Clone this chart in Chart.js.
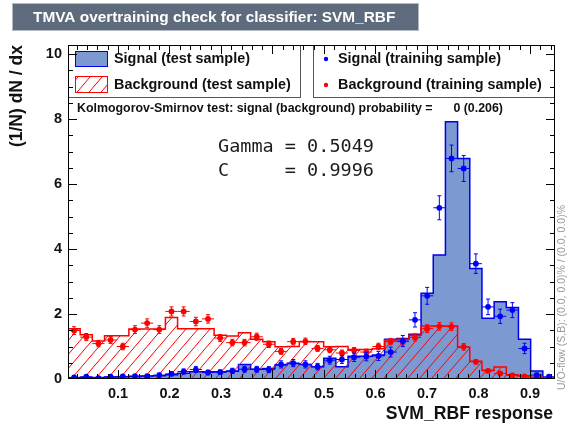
<!DOCTYPE html>
<html>
<head>
<meta charset="utf-8">
<script src="https://cdn.jsdelivr.net/npm/chart.js@4.4.1/dist/chart.umd.min.js"></script>
<style>
  html, body { margin: 0; background: #fff; }
  canvas { display: block; }
</style>
</head>
<body>
<canvas id="overtrain" width="568" height="427"></canvas>
<script>
// SVM_RBF response histograms, 40 bins
const nBins = 40;
const xLo = 0.003, xHi = 0.9485;
const xTicks = [0.1, 0.2, 0.3, 0.4, 0.5, 0.6, 0.7, 0.8, 0.9];
const yTicks = [0, 2, 4, 6, 8, 10];
const yMax = 10.28;

const sigTest = [0.04, 0.05, 0.05, 0.06, 0.07, 0.08, 0.09, 0.10, 0.13, 0.18,
                 0.22, 0.22, 0.22, 0.24, 0.45, 0.30, 0.32, 0.43, 0.48, 0.45,
                 0.38, 0.64, 0.38, 0.70, 0.70, 0.74, 1.22, 1.25, 1.38, 2.64,
                 3.82, 7.92, 6.79, 3.40, 1.87, 2.38, 2.20, 1.22, 0.25, 0.02];
const bkgTest = [1.55, 1.36, 1.17, 1.33, 1.33, 1.54, 1.54, 1.54, 1.89, 1.55,
                 1.55, 1.55, 1.35, 1.32, 1.42, 1.22, 1.15, 0.99, 1.00, 1.15,
                 1.15, 0.99, 1.00, 0.91, 0.91, 0.93, 1.20, 1.22, 1.35, 1.63,
                 1.63, 1.63, 0.98, 0.55, 0.27, 0.37, 0.13, 0.10, 0.05, 0.03];
const sigTrain = [0.05, 0.07, 0.03, 0.07, 0.08, 0.09, 0.09, 0.12, 0.16, 0.23,
                  0.29, 0.20, 0.21, 0.25, 0.30, 0.30, 0.29, 0.45, 0.49, 0.45,
                  0.38, 0.58, 0.60, 0.67, 0.69, 0.71, 0.83, 1.17, 1.82, 2.56,
                  5.27, 6.79, 6.48, 3.55, 2.22, 1.93, 2.12, 0.94, 0.12, 0.07];
const sigTrainErr = [0.04, 0.04, 0.03, 0.04, 0.05, 0.05, 0.05, 0.06, 0.06, 0.08,
                     0.09, 0.07, 0.07, 0.08, 0.09, 0.09, 0.09, 0.11, 0.11, 0.11,
                     0.10, 0.12, 0.12, 0.13, 0.13, 0.14, 0.15, 0.17, 0.22, 0.26,
                     0.37, 0.41, 0.40, 0.30, 0.24, 0.22, 0.23, 0.16, 0.06, 0.04];
const bkgTrain = [1.49, 1.29, 1.09, 1.20, 1.00, 1.52, 1.72, 1.52, 2.08, 2.08,
                  1.77, 1.85, 1.26, 1.12, 1.12, 1.30, 1.07, 0.85, 1.15, 1.16,
                  0.94, 0.90, 0.80, 0.88, 0.83, 1.00, 1.15, 1.15, 1.28, 1.55,
                  1.62, 1.61, 0.99, 0.53, 0.25, 0.17, 0.11, 0.08, 0.06, 0.02];
const bkgTrainErr = [0.12, 0.11, 0.10, 0.11, 0.10, 0.12, 0.13, 0.12, 0.14, 0.14,
                     0.13, 0.13, 0.11, 0.10, 0.10, 0.11, 0.10, 0.09, 0.10, 0.10,
                     0.09, 0.09, 0.09, 0.09, 0.09, 0.10, 0.10, 0.10, 0.11, 0.12,
                     0.12, 0.12, 0.10, 0.07, 0.05, 0.04, 0.03, 0.03, 0.02, 0.01];

const sans = '"Liberation Sans", Arial, Helvetica, sans-serif';
const sigFill = '#7d99d1', sigLine = '#0000ee', bkgLine = '#ff0000';

const binW = (xHi - xLo) / nBins;
const edge = i => xLo + i * binW;

// outline of a histogram: stepped line starting and ending on the baseline
function histPoints(vals) {
  const pts = [{x: edge(0), y: 0}];
  vals.forEach((v, i) => pts.push({x: edge(i), y: v}));
  pts.push({x: edge(nBins), y: 0});
  return pts;
}
const binPoints = vals => vals.map((v, i) => ({x: edge(i) + binW / 2, y: v}));

// diagonal red hatching
function hatch() {
  const s = 12, h = 14;
  const c = document.createElement('canvas');
  c.width = s; c.height = h;
  const g = c.getContext('2d');
  g.strokeStyle = bkgLine;
  g.lineWidth = 1;
  g.beginPath();
  for (let n = 0; n <= 2; n++) {
    g.moveTo(-s, n * h + h);
    g.lineTo(2 * s, n * h - 2 * h);
  }
  g.stroke();
  return g.createPattern(c, 'repeat');
}
const hatchFill = hatch();

// error bars for the training-sample points
const errorBars = {
  id: 'errorBars',
  afterDatasetDraw(chart, args) {
    const ds = chart.data.datasets[args.index];
    if (!ds.errors) return;
    const {ctx, chartArea: a, scales: {x, y}} = chart;
    ctx.save();
    ctx.beginPath();
    ctx.rect(a.left, a.top, a.right - a.left, a.bottom - a.top);
    ctx.clip();
    ctx.strokeStyle = ds.pointBackgroundColor;
    ctx.lineWidth = 1;
    ctx.beginPath();
    ds.data.forEach((p, i) => {
      const px = x.getPixelForValue(p.x), py = y.getPixelForValue(p.y);
      const x0 = x.getPixelForValue(p.x - binW / 2), x1 = x.getPixelForValue(p.x + binW / 2);
      const yTop = y.getPixelForValue(p.y + ds.errors[i]);
      const yBot = y.getPixelForValue(p.y - ds.errors[i]);
      ctx.moveTo(x0, py); ctx.lineTo(x1, py);
      ctx.moveTo(px, yTop); ctx.lineTo(px, yBot);
      ctx.moveTo(px - 2, yTop); ctx.lineTo(px + 2, yTop);
      ctx.moveTo(px - 2, yBot); ctx.lineTo(px + 2, yBot);
    });
    ctx.stroke();
    ctx.restore();
  }
};

// legend panes, KS line, fit parameters, frame with inward ticks
const decorations = {
  id: 'decorations',
  afterDatasetsDraw(chart) {
    const {ctx, chartArea: a, scales: {x, y}} = chart;
    ctx.save();

    ctx.strokeStyle = '#555';
    ctx.lineWidth = 1;
    ctx.strokeRect(a.left + 0.5, a.top + 0.5, 232, 52);
    ctx.strokeRect(313.5, a.top + 0.5, a.right - 314, 52);

    ctx.fillStyle = sigFill;
    ctx.fillRect(75, 51, 33, 16);
    ctx.strokeStyle = sigLine;
    ctx.strokeRect(75.5, 51.5, 32, 15);
    ctx.fillStyle = hatchFill;
    ctx.fillRect(75, 76, 33, 17);
    ctx.strokeStyle = bkgLine;
    ctx.strokeRect(75.5, 76.5, 32, 16);

    ctx.fillStyle = '#0000ff';
    ctx.beginPath(); ctx.arc(326, 59, 2.2, 0, 2 * Math.PI); ctx.fill();
    ctx.fillStyle = '#ff0000';
    ctx.beginPath(); ctx.arc(326, 85, 2.2, 0, 2 * Math.PI); ctx.fill();

    ctx.fillStyle = '#111';
    ctx.textBaseline = 'middle';
    ctx.font = 'bold 14.4px ' + sans;
    ctx.fillText('Signal (test sample)', 114, 59.5);
    ctx.fillText('Background (test sample)', 114, 85);
    ctx.fillText('Signal (training sample)', 338, 59.5);
    ctx.fillText('Background (training sample)', 338, 85);

    ctx.font = 'bold 12.4px ' + sans;
    ctx.fillText('Kolmogorov-Smirnov test: signal (background) probability =', 77, 108.5);
    ctx.textAlign = 'right';
    ctx.fillText('0 (0.206)', 503, 108.5);
    ctx.textAlign = 'left';

    ctx.font = '18.5px "DejaVu Sans Mono", monospace';
    ctx.fillStyle = '#1c1c1c';
    ctx.fillText('Gamma = 0.5049', 218, 147);
    ctx.fillText('C     = 0.9996', 218, 171);

    // frame and ticks
    ctx.strokeStyle = '#000';
    ctx.lineWidth = 1;
    ctx.strokeRect(a.left + 0.5, a.top + 0.5, a.right - a.left - 1, a.bottom - a.top - 1);
    ctx.beginPath();
    for (let i = 1; i * 0.02 < xHi; i++) {
      const px = Math.round(x.getPixelForValue(i * 0.02)) + 0.5;
      const len = i % 5 === 0 ? 9 : 5;
      ctx.moveTo(px, a.bottom); ctx.lineTo(px, a.bottom - len);
      ctx.moveTo(px, a.top); ctx.lineTo(px, a.top + len);
    }
    for (let i = 1; i * 0.5 < yMax; i++) {
      const py = Math.round(y.getPixelForValue(i * 0.5)) + 0.5;
      const len = i % 4 === 0 ? 9 : 5;
      ctx.moveTo(a.left, py); ctx.lineTo(a.left + len, py);
      ctx.moveTo(a.right, py); ctx.lineTo(a.right - len, py);
    }
    ctx.stroke();
    ctx.restore();
  },
  afterDraw(chart) {
    const {ctx} = chart;
    ctx.save();
    // title bar
    ctx.fillStyle = '#5d6b7d';
    ctx.fillRect(13, 4, 405, 26);
    ctx.strokeStyle = '#b4bac3';
    ctx.strokeRect(12.5, 3.5, 406, 27);
    ctx.fillStyle = '#fff';
    ctx.font = 'bold 15.4px ' + sans;
    ctx.textBaseline = 'middle';
    ctx.fillText('TMVA overtraining check for classifier: SVM_RBF', 33, 17.5);

    // axis titles
    ctx.fillStyle = '#111';
    ctx.font = 'bold 17.6px ' + sans;
    ctx.textAlign = 'right';
    ctx.fillText('SVM_RBF response', 553, 414);
    ctx.save();
    ctx.translate(17, 45);
    ctx.rotate(-Math.PI / 2);
    ctx.font = 'bold 17.5px ' + sans;
    ctx.fillText('(1/N) dN / dx', 0, 0);
    ctx.restore();

    // under/overflow note
    ctx.save();
    ctx.translate(562, 390);
    ctx.rotate(-Math.PI / 2);
    ctx.textAlign = 'left';
    ctx.fillStyle = '#9a9a9a';
    ctx.font = '10.5px ' + sans;
    ctx.fillText('U/O-flow (S,B): (0.0, 0.0)% / (0.0, 0.0)%', 0, 0);
    ctx.restore();
    ctx.restore();
  }
};

const tickFont = {family: sans, size: 14.5, weight: 'bold'};

new Chart(document.getElementById('overtrain'), {
  type: 'line',
  data: {
    datasets: [
      {
        label: 'Signal (training sample)',
        data: binPoints(sigTrain),
        errors: sigTrainErr,
        showLine: false,
        pointRadius: 2.9,
        pointBorderWidth: 0,
        pointBackgroundColor: '#0000ff',
        order: 1
      },
      {
        label: 'Background (training sample)',
        data: binPoints(bkgTrain),
        errors: bkgTrainErr,
        showLine: false,
        pointRadius: 2.9,
        pointBorderWidth: 0,
        pointBackgroundColor: '#ff0000',
        order: 2
      },
      {
        label: 'Background (test sample)',
        data: histPoints(bkgTest),
        stepped: 'before',
        borderColor: bkgLine,
        borderWidth: 1.5,
        backgroundColor: hatchFill,
        fill: 'origin',
        pointRadius: 0,
        order: 3
      },
      {
        label: 'Signal (test sample)',
        data: histPoints(sigTest),
        stepped: 'before',
        borderColor: sigLine,
        borderWidth: 1.5,
        backgroundColor: sigFill,
        fill: 'origin',
        pointRadius: 0,
        order: 4
      }
    ]
  },
  options: {
    responsive: false,
    animation: false,
    events: [],
    layout: {padding: {top: 45, right: 13, left: 0, bottom: 0}},
    plugins: {legend: {display: false}, tooltip: {enabled: false}},
    scales: {
      x: {
        type: 'linear',
        min: xLo, max: xHi,
        grid: {display: false, drawTicks: false},
        border: {display: false},
        afterBuildTicks: s => { s.ticks = xTicks.map(v => ({value: v})); },
        afterFit: s => { s.height = 48; },
        ticks: {font: tickFont, color: '#111', padding: 6, maxRotation: 0,
                callback: v => v.toFixed(1)}
      },
      y: {
        min: 0, max: yMax,
        grid: {display: false, drawTicks: false},
        border: {display: false},
        afterBuildTicks: s => { s.ticks = yTicks.map(v => ({value: v})); },
        afterFit: s => { s.width = 68; },
        ticks: {font: tickFont, color: '#111', padding: 6,
                callback: v => String(v)}
      }
    }
  },
  plugins: [errorBars, decorations]
});
</script>
</body>
</html>
